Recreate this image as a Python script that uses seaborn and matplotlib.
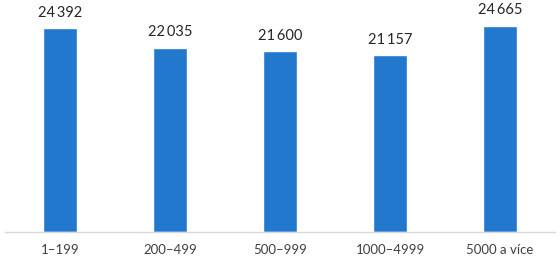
import matplotlib
matplotlib.use("Agg")
import matplotlib.pyplot as plt
import seaborn as sns
import pandas as pd

categories = ["1–199", "200–499", "500–999", "1000–4999", "5000 a více"]
values = [24392, 22035, 21600, 21157, 24665]

sns.set_theme(style="white")
plt.rcParams['font.family'] = ['Lato', 'DejaVu Sans']

df = pd.DataFrame({"cat": categories, "val": values})

fig = plt.figure(figsize=(5.6, 2.6), dpi=100)
ax = fig.add_axes([5/560, 28/260, 550/560, 232/260])
sns.barplot(data=df, x="cat", y="val", color="#2278CC", width=0.31, saturation=1, ax=ax)
ax.set_xlim(-0.5, 4.5)
ax.set_ylim(0, 27740)
ax.set_xlabel("")
ax.set_ylabel("")
ax.set_yticks([])
for s in ["top", "left", "right"]:
    ax.spines[s].set_visible(False)
ax.spines["bottom"].set_color("#D9D9D9")
ax.spines["bottom"].set_linewidth(1)
ax.tick_params(axis="x", length=0, pad=9, labelsize=9.5, labelcolor="#404040")
for i, v in enumerate(values):
    ax.annotate(f"{v:,}".replace(",", "\u2009"), (i, v), xytext=(0, 6), textcoords="offset points",
                ha="center", va="bottom", fontsize=10.5, color="#262626")
fig.savefig("out.png", dpi=100)
